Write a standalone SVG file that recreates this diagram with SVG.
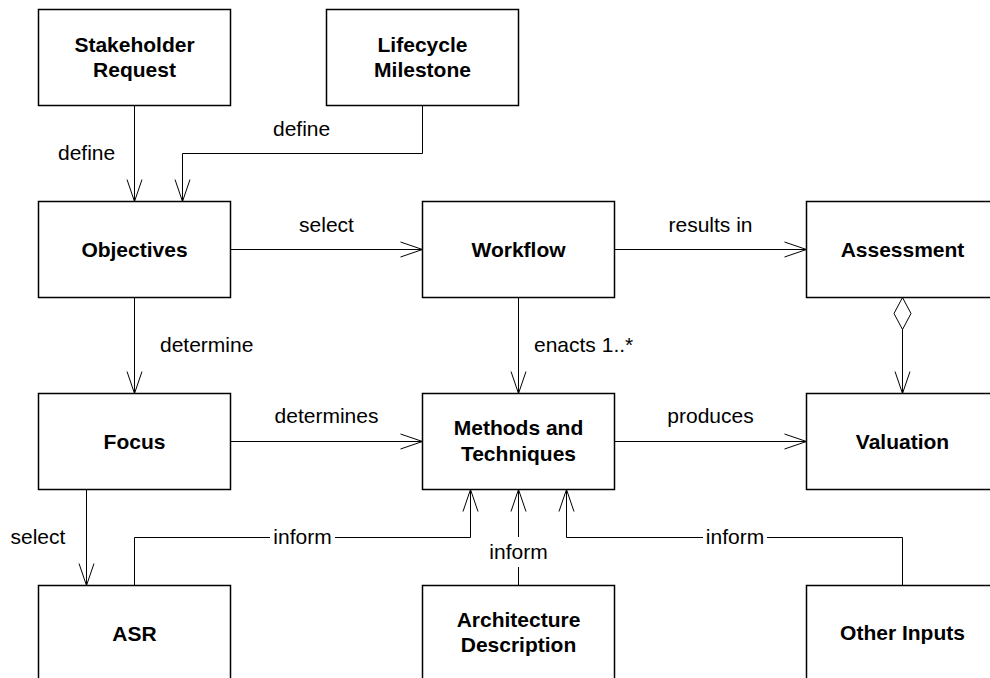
<svg xmlns="http://www.w3.org/2000/svg" width="990" height="678" viewBox="0 0 990 678">
<style>
.box{fill:#fff;stroke:#000;stroke-width:1.5}
.nt{font-family:"Liberation Sans",Arial,sans-serif;font-size:21px;font-weight:bold;text-anchor:middle;fill:#000}
.lbl{font-family:"Liberation Sans",Arial,sans-serif;font-size:21px;fill:#000}
.c{fill:none;stroke:#000;stroke-width:1}
.arr{marker-end:url(#open)}
</style>
<defs>
<marker id="open" markerUnits="userSpaceOnUse" viewBox="-24 -10 26 20" refX="0" refY="0" markerWidth="26" markerHeight="20" orient="auto" overflow="visible">
<path d="M-22,-7.5 L0,0 L-22,7.5" fill="none" stroke="#000" stroke-width="1"/>
</marker>
<marker id="diamond" markerUnits="userSpaceOnUse" viewBox="-2 -11 36 22" refX="0" refY="0" markerWidth="36" markerHeight="22" orient="auto" overflow="visible">
<path d="M0,0 L16,-8.5 L32,0 L16,8.5 Z" fill="#fff" stroke="#000" stroke-width="1"/>
</marker>
</defs>
<rect width="990" height="678" fill="#fff"/>
<g id="connectors">
<path class="c arr" d="M134.5,105.5 V201.5"/>
<path class="c arr" d="M422.5,105.5 V153.5 H182.5 V201.5"/>
<path class="c arr" d="M230.5,249.5 H422.5"/>
<path class="c arr" d="M614.5,249.5 H806.5"/>
<path class="c arr" d="M134.5,297.5 V393.5"/>
<path class="c arr" d="M518.5,297.5 V393.5"/>
<path class="c arr" d="M902.5,297.5 V393.5" marker-start="url(#diamond)"/>
<path class="c arr" d="M230.5,441.5 H422.5"/>
<path class="c arr" d="M614.5,441.5 H806.5"/>
<path class="c arr" d="M86.5,489.5 V585.5"/>
<path class="c arr" d="M134.5,585.5 V537.5 H270 M335,537.5 H470.5 V489.5"/>
<path class="c arr" d="M518.5,585.5 V567 M518.5,537 V489.5"/>
<path class="c arr" d="M902.5,585.5 V537.5 H767 M703,537.5 H566.5 V489.5"/>
<text class="lbl" x="58" y="160">define</text>
<text class="lbl" x="273" y="136">define</text>
<text class="lbl" x="326.5" y="232" text-anchor="middle">select</text>
<text class="lbl" x="710.5" y="232" text-anchor="middle">results in</text>
<text class="lbl" x="160" y="352">determine</text>
<text class="lbl" x="534" y="352">enacts 1..*</text>
<text class="lbl" x="326.5" y="423" text-anchor="middle">determines</text>
<text class="lbl" x="710.5" y="423" text-anchor="middle">produces</text>
<text class="lbl" x="10.5" y="544">select</text>
<text class="lbl" x="302.5" y="544" text-anchor="middle">inform</text>
<text class="lbl" x="518.5" y="559" text-anchor="middle">inform</text>
<text class="lbl" x="735" y="544" text-anchor="middle">inform</text>
</g>
<g id="stakeholder-request">
<rect class="box" x="38.5" y="9.5" width="192" height="96"/>
<text class="nt" x="134.5" y="52">Stakeholder</text>
<text class="nt" x="134.5" y="77">Request</text>
</g>
<g id="lifecycle-milestone">
<rect class="box" x="326.5" y="9.5" width="192" height="96"/>
<text class="nt" x="422.5" y="52">Lifecycle</text>
<text class="nt" x="422.5" y="77">Milestone</text>
</g>
<g id="objectives">
<rect class="box" x="38.5" y="201.5" width="192" height="96"/>
<text class="nt" x="134.5" y="256.5">Objectives</text>
</g>
<g id="workflow">
<rect class="box" x="422.5" y="201.5" width="192" height="96"/>
<text class="nt" x="518.5" y="256.5">Workflow</text>
</g>
<g id="assessment">
<rect class="box" x="806.5" y="201.5" width="192" height="96"/>
<text class="nt" x="902.5" y="256.5">Assessment</text>
</g>
<g id="focus">
<rect class="box" x="38.5" y="393.5" width="192" height="96"/>
<text class="nt" x="134.5" y="448.5">Focus</text>
</g>
<g id="methods-and-techniques">
<rect class="box" x="422.5" y="393.5" width="192" height="96"/>
<text class="nt" x="518.5" y="434.5">Methods and</text>
<text class="nt" x="518.5" y="460.5">Techniques</text>
</g>
<g id="valuation">
<rect class="box" x="806.5" y="393.5" width="192" height="96"/>
<text class="nt" x="902.5" y="448.5">Valuation</text>
</g>
<g id="asr">
<rect class="box" x="38.5" y="585.5" width="192" height="96"/>
<text class="nt" x="134.5" y="640.5">ASR</text>
</g>
<g id="architecture-description">
<rect class="box" x="422.5" y="585.5" width="192" height="96"/>
<text class="nt" x="518.5" y="626.5">Architecture</text>
<text class="nt" x="518.5" y="652">Description</text>
</g>
<g id="other-inputs">
<rect class="box" x="806.5" y="585.5" width="192" height="96"/>
<text class="nt" x="902.5" y="640">Other Inputs</text>
</g>
</svg>
